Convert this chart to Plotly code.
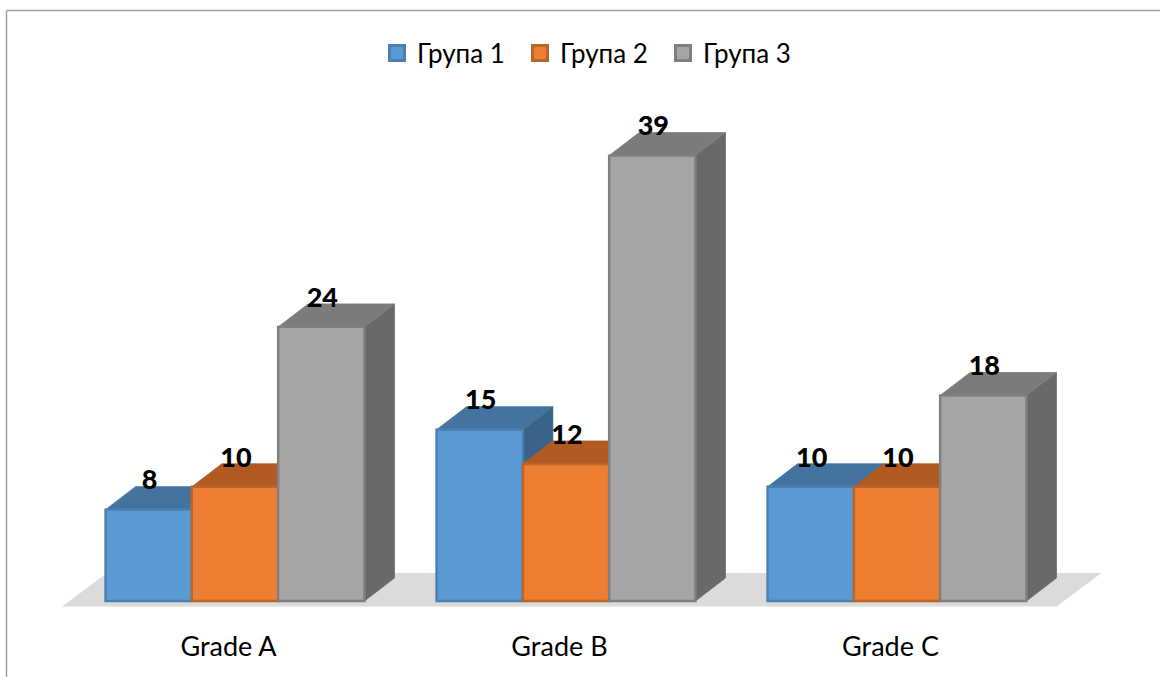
import plotly.graph_objects as go

# Chart data
grades = ["Grade A", "Grade B", "Grade C"]
group_names = ["Група 1", "Група 2", "Група 3"]
group_1 = [8, 15, 10]
group_2 = [10, 12, 10]
group_3 = [24, 39, 18]
series = [group_1, group_2, group_3]

# Face colours per series
front_colors = ["#5B9BD5", "#ED7D31", "#A5A5A5"]
edge_colors = ["#4C7FAE", "#B9662D", "#7F7F7F"]
top_colors = ["#44739F", "#B15B22", "#7B7B7B"]
side_colors = ["#3A6389", "#9A4F1D", "#696969"]
floor_color = "#DCDADB"
frame_color = "#A0A0A0"
text_color = "#000000"
font_family = "Lato, 'Noto Sans', sans-serif"

WIDTH, HEIGHT = 1160, 677
PX_PER_CATEGORY = 331.0
PX_PER_UNIT = 11.42
ORIGIN_X, BASE_Y, AXIS_Y = 235.0, 601.0, 628.0

x_range = [-ORIGIN_X / PX_PER_CATEGORY, (WIDTH - ORIGIN_X) / PX_PER_CATEGORY]
y_range = [-(AXIS_Y - BASE_Y) / PX_PER_UNIT, BASE_Y / PX_PER_UNIT]

BAR_WIDTH = 86.3 / PX_PER_CATEGORY
DEPTH_X = 30.0 / PX_PER_CATEGORY
DEPTH_Y = 23.0 / PX_PER_UNIT
LABEL_RISE = 27.0 / PX_PER_UNIT
LABEL_SHIFT = 1.0 / PX_PER_CATEGORY

fig = go.Figure()

# Floor plane under all three groups
floor_left = -1.5 * BAR_WIDTH - 43.5 / PX_PER_CATEGORY
floor_right = 2 + 1.5 * BAR_WIDTH + 30.0 / PX_PER_CATEGORY
floor_drop = 5.5 / PX_PER_UNIT
floor_back = 28.0 / PX_PER_UNIT
floor_shift = 45.0 / PX_PER_CATEGORY
fig.add_trace(go.Scatter(
    x=[floor_left, floor_right, floor_right + floor_shift, floor_left + floor_shift, floor_left],
    y=[-floor_drop, -floor_drop, floor_back, floor_back, -floor_drop],
    mode="lines", fill="toself", fillcolor=floor_color, line=dict(width=0),
    hoverinfo="skip", showlegend=False,
))

# Top and side faces, back to front in series order
for s, values in enumerate(series):
    for g, value in enumerate(values):
        left = g + (s - 1.5) * BAR_WIDTH
        right = left + BAR_WIDTH
        fig.add_trace(go.Scatter(
            x=[right, right + DEPTH_X, right + DEPTH_X, right, right],
            y=[0, DEPTH_Y, value + DEPTH_Y, value, 0],
            mode="lines", fill="toself", fillcolor=side_colors[s],
            line=dict(width=0.8, color=side_colors[s]),
            hoverinfo="skip", showlegend=False,
        ))
        fig.add_trace(go.Scatter(
            x=[left, right, right + DEPTH_X, left + DEPTH_X, left],
            y=[value, value, value + DEPTH_Y, value + DEPTH_Y, value],
            mode="lines", fill="toself", fillcolor=top_colors[s],
            line=dict(width=0.8, color=top_colors[s]),
            hoverinfo="skip", showlegend=False,
        ))

# Front faces sit on an overlaid subplot so they cover the faces behind them
for s, values in enumerate(series):
    fig.add_trace(go.Bar(
        x=list(range(len(grades))), y=values, name=group_names[s],
        marker=dict(color=front_colors[s], line=dict(color=edge_colors[s], width=2.4)),
        xaxis="x2", yaxis="y2", showlegend=False,
    ))

# Value labels above each bar
for s, values in enumerate(series):
    fig.add_trace(go.Scatter(
        x=[g + (s - 1) * BAR_WIDTH + LABEL_SHIFT for g in range(len(grades))],
        y=[v + LABEL_RISE for v in values],
        text=[str(v) for v in values],
        mode="text", textposition="middle center",
        textfont=dict(family=font_family, size=27, color=text_color, weight=900),
        xaxis="x2", yaxis="y2", hoverinfo="skip", showlegend=False,
    ))

# Legend entries
for s, name in enumerate(group_names):
    fig.add_trace(go.Scatter(
        x=[None], y=[None], name=name, mode="markers",
        marker=dict(symbol="square", size=15, color=front_colors[s],
                    line=dict(color=edge_colors[s], width=3)),
    ))

label_shift = -6.5 / PX_PER_CATEGORY
axis_common = dict(showgrid=False, zeroline=False, showline=False, fixedrange=True)
fig.update_layout(
    width=WIDTH, height=HEIGHT,
    margin=dict(l=0, r=0, t=0, b=HEIGHT - AXIS_Y, pad=0),
    paper_bgcolor="white", plot_bgcolor="white",
    barmode="group", bargap=1 - 3 * BAR_WIDTH, bargroupgap=0,
    xaxis=dict(range=x_range, tickmode="array",
               tickvals=[g + label_shift for g in range(len(grades))], ticktext=grades,
               ticks="", tickfont=dict(family=font_family, size=27, color=text_color),
               **axis_common),
    yaxis=dict(range=y_range, visible=False, **axis_common),
    xaxis2=dict(range=x_range, overlaying="x", visible=False, **axis_common),
    yaxis2=dict(range=y_range, overlaying="y", visible=False, **axis_common),
    legend=dict(orientation="h", x=377 / WIDTH, xanchor="left",
                y=1 - 53 / AXIS_Y, yanchor="middle",
                entrywidth=98, entrywidthmode="pixels",
                font=dict(family=font_family, size=26, color=text_color),
                bgcolor="rgba(0,0,0,0)", itemclick=False, itemdoubleclick=False),
    shapes=[
        dict(type="line", xref="paper", yref="paper", x0=6.5 / WIDTH, x1=1,
             y0=1 - 10.5 / AXIS_Y, y1=1 - 10.5 / AXIS_Y,
             line=dict(color=frame_color, width=1.5)),
        dict(type="line", xref="paper", yref="paper", x0=6.5 / WIDTH, x1=6.5 / WIDTH,
             y0=1 - 10.5 / AXIS_Y, y1=1 - HEIGHT / AXIS_Y,
             line=dict(color=frame_color, width=1.5)),
    ],
)

fig.write_html("out.html", config=dict(displayModeBar=False))
